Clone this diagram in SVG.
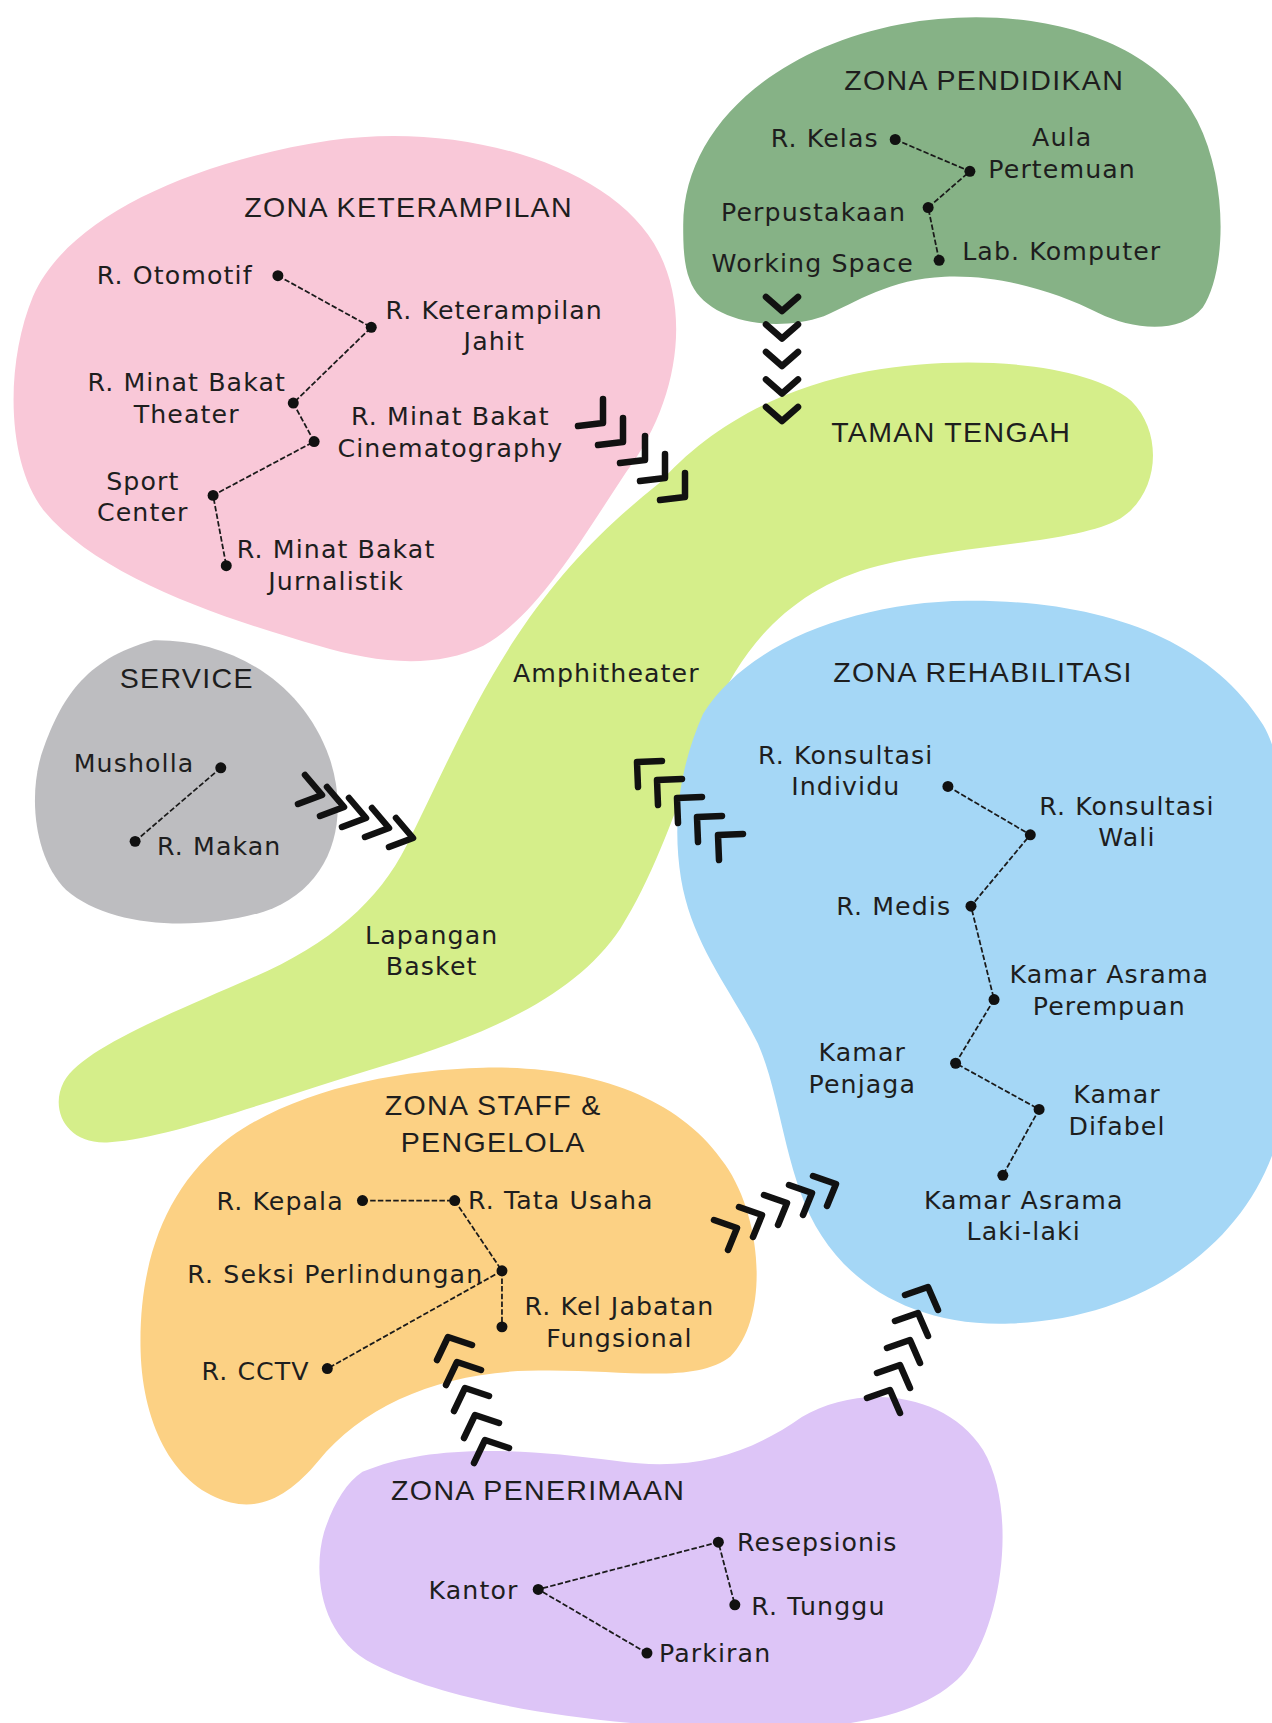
<svg xmlns="http://www.w3.org/2000/svg" width="1272" height="1723" viewBox="0 0 1272 1723">
<defs>
<style>
.lbl{font-family:"DejaVu Sans","Liberation Sans",sans-serif;font-size:23px;letter-spacing:1px;fill:#1e1e1e}
.hd{font-family:"Liberation Sans","DejaVu Sans",sans-serif;font-size:26px;letter-spacing:1.2px;fill:#1e1e1e}
.m{text-anchor:middle}.e{text-anchor:end}
.ln{fill:none;stroke:#1a1a1a;stroke-width:1.6;stroke-dasharray:5 2}
.dot{fill:#111}
.chev{fill:none;stroke:#111;stroke-width:6.5;stroke-linecap:round;stroke-linejoin:round}
</style>
</defs>
<rect width="1272" height="1723" fill="#ffffff"/>
<g transform="scale(1.0984)">
<g id="taman-tengah">
<path fill="#d5ee8a" d="M600,440 C640,395 700,355 790,338 C880,322 990,330 1030,365 C1060,395 1055,450 1020,472 C980,495 880,495 800,515 C720,535 675,590 650,650 C620,720 600,790 565,845 C525,905 450,940 350,970 C250,1000 160,1035 100,1040 C60,1043 45,1010 58,985 C75,955 150,925 230,890 C300,860 345,820 370,770 C400,710 430,640 470,580 C510,520 550,480 600,440 Z"/>
<text class="hd m" x="866" y="402">TAMAN TENGAH</text>
<text class="lbl m" x="552" y="621">Amphitheater</text>
<text class="lbl m" x="393" y="859">Lapangan</text>
<text class="lbl m" x="393" y="888">Basket</text>
</g>
<g id="zona-pendidikan">
<path fill="#86b286" d="M622,205 C622,120 700,45 820,22 C930,2 1050,30 1090,110 C1120,170 1115,250 1095,280 C1075,305 1030,300 1000,285 C960,265 910,250 860,252 C810,254 780,275 750,288 C700,305 640,290 628,255 C622,240 622,220 622,205 Z"/>
<text class="hd m" x="896" y="82">ZONA PENDIDIKAN</text>
<polyline class="ln" points="815,127 883,156 845,189 855,237"/>
<circle class="dot" cx="815" cy="127" r="5"/><circle class="dot" cx="883" cy="156" r="5"/><circle class="dot" cx="845" cy="189" r="5"/><circle class="dot" cx="855" cy="237" r="5"/>
<text class="lbl e" x="800" y="134">R. Kelas</text>
<text class="lbl m" x="967" y="133">Aula</text>
<text class="lbl m" x="967" y="162">Pertemuan</text>
<text class="lbl e" x="825" y="201">Perpustakaan</text>
<text class="lbl e" x="832" y="248">Working Space</text>
<text class="lbl" x="876" y="237">Lab. Komputer</text>
</g>
<g id="zona-keterampilan">
<path fill="#f9c8d8" d="M300,128 C420,110 560,150 600,230 C630,290 615,370 570,430 C530,490 490,560 440,588 C395,610 340,603 290,588 C200,562 90,525 40,465 C5,420 5,330 30,270 C60,200 170,148 300,128 Z"/>
<text class="hd m" x="372" y="198">ZONA KETERAMPILAN</text>
<polyline class="ln" points="253,251 338,298 267,367 286,402 194,451 206,515"/>
<circle class="dot" cx="253" cy="251" r="5"/><circle class="dot" cx="338" cy="298" r="5"/><circle class="dot" cx="267" cy="367" r="5"/><circle class="dot" cx="286" cy="402" r="5"/><circle class="dot" cx="194" cy="451" r="5"/><circle class="dot" cx="206" cy="515" r="5"/>
<text class="lbl e" x="230" y="259">R. Otomotif</text>
<text class="lbl m" x="450" y="290">R. Keterampilan</text>
<text class="lbl m" x="450" y="319">Jahit</text>
<text class="lbl m" x="170" y="356">R. Minat Bakat</text>
<text class="lbl m" x="170" y="385">Theater</text>
<text class="lbl m" x="410" y="387">R. Minat Bakat</text>
<text class="lbl m" x="410" y="416">Cinematography</text>
<text class="lbl m" x="130" y="446">Sport</text>
<text class="lbl m" x="130" y="474">Center</text>
<text class="lbl m" x="306" y="508">R. Minat Bakat</text>
<text class="lbl m" x="306" y="537">Jurnalistik</text>
</g>
<g id="service">
<path fill="#bdbdc0" d="M140,583 C210,582 275,620 300,690 C320,750 300,810 240,830 C180,848 100,845 60,810 C30,780 25,720 40,680 C55,640 75,600 140,583 Z"/>
<text class="hd m" x="170" y="626">SERVICE</text>
<line class="ln" x1="201" y1="699" x2="123" y2="766"/>
<circle class="dot" cx="201" cy="699" r="5"/><circle class="dot" cx="123" cy="766" r="5"/>
<text class="lbl e" x="177" y="703">Musholla</text>
<text class="lbl" x="143" y="778">R. Makan</text>
</g>
<g id="zona-rehabilitasi">
<path fill="#a5d7f6" d="M640,650 C680,585 780,548 880,547 C1000,546 1100,580 1150,660 C1185,720 1180,900 1170,1000 C1160,1110 1060,1200 920,1205 C840,1208 780,1175 748,1125 C715,1075 712,1000 690,950 C665,900 630,860 620,800 C612,750 618,700 640,650 Z"/>
<text class="hd m" x="895" y="621">ZONA REHABILITASI</text>
<polyline class="ln" points="863,716 938,760 884,825 905,910 870,968 946,1010 913,1070"/>
<circle class="dot" cx="863" cy="716" r="5"/><circle class="dot" cx="938" cy="760" r="5"/><circle class="dot" cx="884" cy="825" r="5"/><circle class="dot" cx="905" cy="910" r="5"/><circle class="dot" cx="870" cy="968" r="5"/><circle class="dot" cx="946" cy="1010" r="5"/><circle class="dot" cx="913" cy="1070" r="5"/>
<text class="lbl m" x="770" y="696">R. Konsultasi</text>
<text class="lbl m" x="770" y="724">Individu</text>
<text class="lbl m" x="1026" y="742">R. Konsultasi</text>
<text class="lbl m" x="1026" y="770">Wali</text>
<text class="lbl e" x="866" y="833">R. Medis</text>
<text class="lbl m" x="1010" y="895">Kamar Asrama</text>
<text class="lbl m" x="1010" y="924">Perempuan</text>
<text class="lbl m" x="785" y="966">Kamar</text>
<text class="lbl m" x="785" y="995">Penjaga</text>
<text class="lbl m" x="1017" y="1004">Kamar</text>
<text class="lbl m" x="1017" y="1033">Difabel</text>
<text class="lbl m" x="932" y="1101">Kamar Asrama</text>
<text class="lbl m" x="932" y="1129">Laki-laki</text>
</g>
<g id="zona-staff-pengelola">
<path fill="#fcd184" d="M440,972 C540,970 620,1000 660,1060 C695,1110 700,1200 665,1235 C630,1262 560,1245 480,1248 C400,1250 330,1280 290,1330 C265,1360 240,1375 210,1368 C160,1355 130,1300 128,1230 C126,1150 150,1080 210,1035 C270,992 360,974 440,972 Z"/>
<text class="hd m" x="449" y="1015">ZONA STAFF &amp;</text>
<text class="hd m" x="449" y="1049">PENGELOLA</text>
<polyline class="ln" points="330,1093 414,1093 457,1157 457,1208"/>
<line class="ln" x1="457" y1="1157" x2="298" y2="1246"/>
<circle class="dot" cx="330" cy="1093" r="5"/><circle class="dot" cx="414" cy="1093" r="5"/><circle class="dot" cx="457" cy="1157" r="5"/><circle class="dot" cx="457" cy="1208" r="5"/><circle class="dot" cx="298" cy="1246" r="5"/>
<text class="lbl e" x="313" y="1102">R. Kepala</text>
<text class="lbl" x="426" y="1101">R. Tata Usaha</text>
<text class="lbl e" x="440" y="1168">R. Seksi Perlindungan</text>
<text class="lbl m" x="564" y="1197">R. Kel Jabatan</text>
<text class="lbl m" x="564" y="1226">Fungsional</text>
<text class="lbl e" x="282" y="1256">R. CCTV</text>
</g>
<g id="zona-penerimaan">
<path fill="#ddc5f7" d="M330,1340 C390,1315 470,1318 560,1330 C630,1340 680,1325 730,1290 C780,1260 860,1265 895,1320 C925,1370 915,1470 880,1520 C840,1570 740,1580 620,1572 C500,1565 400,1545 340,1515 C290,1490 285,1430 295,1395 C303,1370 315,1350 330,1340 Z"/>
<text class="hd m" x="490" y="1366">ZONA PENERIMAAN</text>
<polyline class="ln" points="589,1505 490,1447 654,1404 669,1461"/>
<circle class="dot" cx="654" cy="1404" r="5"/><circle class="dot" cx="490" cy="1447" r="5"/><circle class="dot" cx="669" cy="1461" r="5"/><circle class="dot" cx="589" cy="1505" r="5"/>
<text class="lbl" x="671" y="1412">Resepsionis</text>
<text class="lbl e" x="472" y="1456">Kantor</text>
<text class="lbl" x="684" y="1470">R. Tunggu</text>
<text class="lbl" x="600" y="1513">Parkiran</text>
</g>
</g>
<g id="connectors">
<path class="chev" d="M766,297 L782,311 L798,297 M766,324.5 L782,338.5 L798,324.5 M766,352 L782,366 L798,352 M766,379.5 L782,393.5 L798,379.5 M766,407 L782,421 L798,407"/>
<path class="chev" d="M578,426 L603,423 L603,399 M598,445 L623,442 L623,418 M620,463 L645,460 L645,436 M640,481 L665,478 L665,454 M660,500 L685,497 L685,473"/>
<path class="chev" d="M305,775 L322,795 L298,804 M327,787 L344,807 L320,816 M349,798 L366,818 L342,827 M372,808 L389,828 L365,837 M396,818 L413,838 L389,847"/>
<path class="chev" d="M662,761 L637,762 L638,787 M682,779 L657,780 L658,805 M702,797 L677,798 L678,823 M722,816 L697,817 L698,842 M743,834 L718,835 L719,860"/>
<path class="chev" d="M714,1220 L737,1228 L728,1250 M739,1207 L762,1215 L753,1237 M764,1195 L787,1203 L778,1225 M789,1185 L812,1193 L803,1215 M813,1176 L836,1184 L827,1206"/>
<path class="chev" d="M905,1295 L928,1287 L938,1310 M895,1321 L918,1313 L928,1336 M887,1348 L910,1340 L920,1363 M877,1373 L900,1365 L910,1388 M867,1398 L890,1390 L900,1413"/>
<path class="chev" d="M437,1360 L448,1337 L472,1345 M446,1385 L457,1362 L481,1370 M454,1411 L465,1388 L489,1396 M464,1438 L475,1415 L499,1423 M474,1463 L485,1440 L509,1448"/>
</g>
</svg>
